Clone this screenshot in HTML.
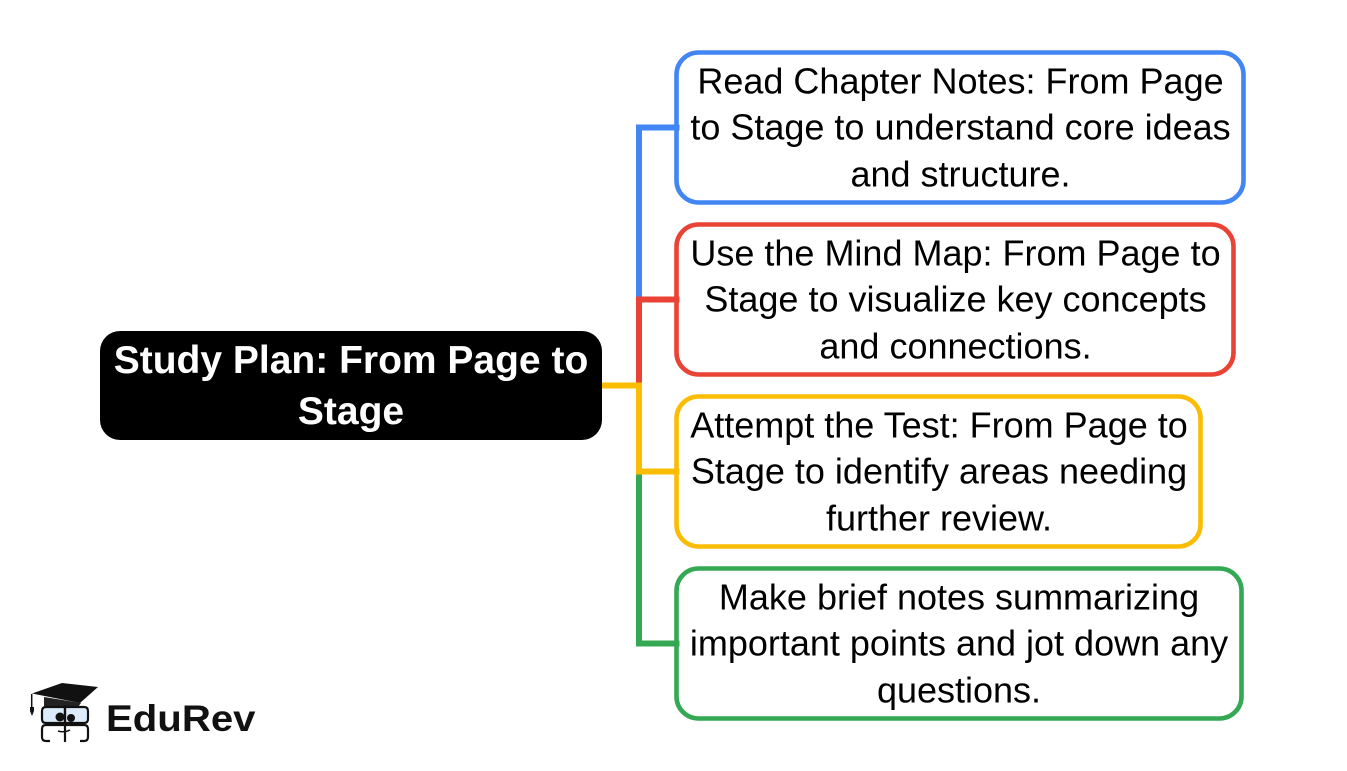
<!DOCTYPE html>
<html>
<head>
<meta charset="utf-8">
<style>
html,body{margin:0;padding:0;background:#fff;width:1347px;height:771px;overflow:hidden}
svg{display:block}
text{font-family:"Liberation Sans",sans-serif}
.t{font-size:36px;fill:#000;text-anchor:middle}
.h{font-size:39px;font-weight:bold;fill:#fff;text-anchor:middle}
</style>
</head>
<body>
<svg width="1347" height="771" viewBox="0 0 1347 771" xmlns="http://www.w3.org/2000/svg">
<rect width="1347" height="771" fill="#fff"/>
<!-- root -->
<rect x="100" y="331" width="502" height="109" rx="20" fill="#000"/>
<text class="h" x="351" y="373">Study Plan: From Page to</text>
<text class="h" x="351" y="424">Stage</text>
<!-- boxes -->
<rect x="676.500" y="52.500" width="567" height="150" rx="22" fill="#fff" stroke="#4285f4" stroke-width="4.600"/>
<text class="t" x="960.500" y="93.300">Read Chapter Notes: From Page</text>
<text class="t" x="960.500" y="139.300">to Stage to understand core ideas</text>
<text class="t" x="960.500" y="186.300">and structure.</text>

<rect x="676.500" y="224.500" width="557" height="150" rx="22" fill="#fff" stroke="#ea4335" stroke-width="4.600"/>
<text class="t" x="955.500" y="265.300">Use the Mind Map: From Page to</text>
<text class="t" x="955.500" y="311.300">Stage to visualize key concepts</text>
<text class="t" x="955.500" y="358.300">and connections.</text>

<rect x="676.500" y="396.500" width="524" height="150" rx="22" fill="#fff" stroke="#fbbc04" stroke-width="4.600"/>
<text class="t" x="939" y="437.300">Attempt the Test: From Page to</text>
<text class="t" x="939" y="483.300">Stage to identify areas needing</text>
<text class="t" x="939" y="530.300">further review.</text>

<rect x="676.500" y="568.500" width="565" height="150" rx="22" fill="#fff" stroke="#34a853" stroke-width="4.600"/>
<text class="t" x="959" y="609.300">Make brief notes summarizing</text>
<text class="t" x="959" y="655.300">important points and jot down any</text>
<text class="t" x="959" y="702.300">questions.</text>

<!-- connectors -->
<path d="M679.500 127.500H639V297" fill="none" stroke="#4285f4" stroke-width="6"/>
<path d="M639 474.500V643.500H679.500" fill="none" stroke="#34a853" stroke-width="6"/>
<path d="M639 385V299.500H679.500" fill="none" stroke="#ea4335" stroke-width="6"/>
<path d="M602 385.500H639V474.500M639 471.500H679.500" fill="none" stroke="#fbbc04" stroke-width="6"/>

<!-- logo -->
<g>
<path d="M32 693.500L62 683L98 687L80 703Z" fill="#111"/>
<path d="M44 697V707H78L81 703Z" fill="#222"/>
<path d="M31.700 694V708" stroke="#111" stroke-width="1.500" fill="none"/>
<path d="M30 707h4v4l-2 5l-2-5z" fill="#111"/>
<path d="M42 711q0-4 4-4h19v16H46q-4 0-4-4z" fill="#dcebf9" stroke="#111" stroke-width="2.200"/>
<path d="M88 711q0-4-4-4H65v16h19q4 0 4-4z" fill="#dcebf9" stroke="#111" stroke-width="2.200"/>
<path d="M50 741h-4q-4 0-4-4v-8q0-4 4-4h38q4 0 4 4v8q0 4-4 4h-4M65 705v37" stroke="#111" stroke-width="2.200" fill="none"/>
<circle cx="60" cy="717" r="4.500" fill="#111"/>
<circle cx="71" cy="718" r="4" fill="#111"/>
<path d="M58 731q6 2 12-1" stroke="#111" stroke-width="1.500" fill="none"/>
<text x="106" y="731" style="font-size:37px;font-weight:bold;fill:#111" textLength="149.500" lengthAdjust="spacingAndGlyphs">EduRev</text>
</g>
</svg>
</body>
</html>
